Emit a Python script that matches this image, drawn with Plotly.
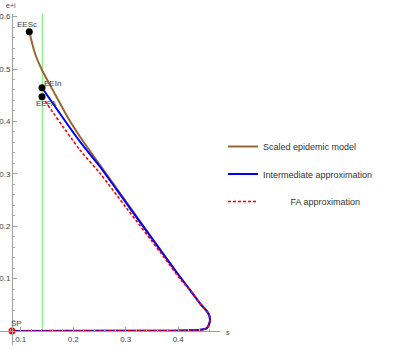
import plotly.graph_objects as go

# ---------------- data ----------------
scaled_s = [0.1164, 0.1272, 0.1406, 0.1663, 0.1926, 0.2130, 0.2510, 0.3082, 0.3939,
            0.4225, 0.4415, 0.4573, 0.4606, 0.4543, 0.4225, 0.3844, 0.2891, 0.0834]
scaled_ei = [0.5712, 0.5300, 0.4981, 0.4504, 0.4027, 0.3708, 0.3168, 0.2366, 0.1164,
             0.0782, 0.0529, 0.0338, 0.0210, 0.0052, 0.0013, 0.0006, 0.0003, 0.0]

inter_s = [0.1406, 0.2130, 0.2510, 0.3082, 0.3939,
           0.4225, 0.4415, 0.4573, 0.4606, 0.4543, 0.4225, 0.3844, 0.2891, 0.0834]
inter_ei = [0.4643, 0.3613, 0.3135, 0.2342, 0.1160,
            0.0782, 0.0529, 0.0338, 0.0210, 0.0052, 0.0013, 0.0006, 0.0003, 0.0]

fa_s = [0.1406, 0.2130, 0.2510, 0.3019, 0.3653, 0.4053,
        0.4225, 0.4415, 0.4573, 0.4606, 0.4543, 0.4225, 0.3844, 0.2891, 0.0834]
fa_ei = [0.4471, 0.3454, 0.3010, 0.2342, 0.1510, 0.0973,
         0.0782, 0.0529, 0.0338, 0.0210, 0.0052, 0.0013, 0.0006, 0.0003, 0.0]

point_names = ["EESc", "EEIn", "EEFA"]
point_s = [0.1164, 0.1406, 0.1406]
point_ei = [0.5712, 0.4643, 0.4471]

sp_name = "SP"
sp_s = [0.0834]
sp_ei = [0.0]

s_threshold = 0.1411

x_ticks = [0.1, 0.2, 0.3, 0.4]
y_ticks = [0.1, 0.2, 0.3, 0.4, 0.5, 0.6]
x_minor = [round(0.06 + 0.02 * i, 2) for i in range(22)]
y_minor = [round(-0.02 + 0.02 * i, 2) for i in range(32)]

x_range = [0.0606, 0.4796]
y_range = [-0.0267, 0.605]

# ---------------- figure ----------------
FONT = "Liberation Sans, Arial, sans-serif"
fig = go.Figure()

fig.add_trace(go.Scatter(x=scaled_s, y=scaled_ei, mode="lines", name="Scaled epidemic model",
                         line=dict(color="#996633", width=2, shape="spline", smoothing=0.8),
                         legendgroup="a"))
fig.add_trace(go.Scatter(x=inter_s, y=inter_ei, mode="lines", name="Intermediate approximation",
                         line=dict(color="#0000ff", width=2, shape="spline", smoothing=0.8),
                         legendgroup="b"))
fig.add_trace(go.Scatter(x=fa_s, y=fa_ei, mode="lines",
                         name="\u00a0" * 11 + "FA approximation",
                         line=dict(color="#ff0000", width=1.6, dash="3px,2px", shape="spline", smoothing=0.8),
                         legendgroup="c"))

fig.add_trace(go.Scatter(x=point_s, y=point_ei, mode="markers", showlegend=False,
                         marker=dict(color="black", size=7)))
fig.add_trace(go.Scatter(x=sp_s, y=sp_ei, mode="markers", showlegend=False,
                         marker=dict(color="#ff0000", size=7)))

# vertical threshold line
fig.add_shape(type="line", x0=s_threshold, x1=s_threshold, y0=0, y1=y_range[1],
              xref="x", yref="y", line=dict(color="#66ee66", width=1), layer="below")

# point labels
label_shift = {"EESc": (-2.5, 7.7), "EEIn": (10.8, 4.4), "EEFA": (4.7, -6.6)}
for n, xs, ys in zip(point_names, point_s, point_ei):
    dx, dy = label_shift[n]
    fig.add_annotation(x=xs, y=ys, text=n, showarrow=False, xshift=dx, yshift=dy,
                       font=dict(size=8, color="#444444", family=FONT))
fig.add_annotation(x=sp_s[0], y=sp_ei[0], text=sp_name, showarrow=False, xshift=4.7, yshift=7.7,
                   font=dict(size=8, color="#444444", family=FONT))

# axis titles
fig.add_annotation(x=sp_s[0], y=y_range[1], text="e+i", showarrow=False, xshift=-1, yshift=9,
                   font=dict(size=7, color="#444444", family=FONT))
fig.add_annotation(x=x_range[1], y=0, text="s", showarrow=False, xshift=8, yshift=-1,
                   font=dict(size=7, color="#444444", family=FONT))

xpos = (0 - y_range[0]) / (y_range[1] - y_range[0])
ypos = (sp_s[0] - x_range[0]) / (x_range[1] - x_range[0])

fig.update_layout(
    width=396, height=349,
    margin=dict(l=0, r=176, t=14, b=4),
    paper_bgcolor="white", plot_bgcolor="white",
    font=dict(family=FONT, size=8, color="#444444"),
    xaxis=dict(range=x_range, anchor="free", position=xpos, showgrid=False, zeroline=False,
               showline=True, linecolor="#a0a0a0", linewidth=1,
               tickmode="array", tickvals=x_ticks, ticktext=[str(v) for v in x_ticks],
               ticks="inside", ticklen=4, tickcolor="#a0a0a0", tickfont=dict(size=8, color="#444444"),
               minor=dict(tickmode="array", tickvals=x_minor, ticks="inside", ticklen=2, tickcolor="#b0b0b0")),
    yaxis=dict(range=y_range, anchor="free", position=ypos, showgrid=False, zeroline=False,
               showline=True, linecolor="#a0a0a0", linewidth=1,
               tickmode="array", tickvals=y_ticks, ticktext=[str(v) for v in y_ticks],
               ticks="inside", ticklen=4, tickcolor="#a0a0a0", tickfont=dict(size=8, color="#444444"),
               minor=dict(tickmode="array", tickvals=y_minor, ticks="inside", ticklen=2, tickcolor="#b0b0b0")),
    legend=dict(x=223 / 220, y=1 - (132 - 14) / 331, xanchor="left", yanchor="top",
                font=dict(size=9, color="#333333", family=FONT),
                traceorder="grouped", tracegroupgap=8.5, bgcolor="rgba(0,0,0,0)", borderwidth=0),
    showlegend=True,
)

fig.write_html("out.html", post_script="document.body.style.margin='0';",
               config={"displayModeBar": False})
